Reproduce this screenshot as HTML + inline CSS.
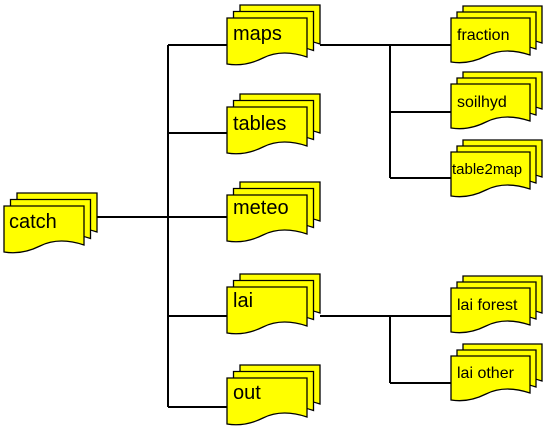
<!DOCTYPE html>
<html><head><meta charset="utf-8"><style>
html,body{margin:0;padding:0;background:#fff;}
svg{display:block;}
text{font-family:"Liberation Sans",Arial,sans-serif;fill:#000;}
</style></head><body>
<svg width="558" height="437" viewBox="0 0 558 437" xmlns="http://www.w3.org/2000/svg">
<defs>
<path id="d" d="M0,0 H80 V39 C62,33 48,34 36,40 C24,46 12,48 0,46 Z" fill="#ffff00" stroke="#000" stroke-width="1.3"/>
<path id="s" d="M0,0 H79 V37 C61,31 47,32 35,38 C23,44 12,46 0,44 Z" fill="#ffff00" stroke="#000" stroke-width="1.3"/>
<g id="big"><use href="#d" x="13" y="-13"/><use href="#d" x="6.5" y="-6.5"/><use href="#d" x="0" y="0"/></g>
<g id="sm"><use href="#s" x="12" y="-12"/><use href="#s" x="6" y="-6"/><use href="#s" x="0" y="0"/></g>
</defs>
<g stroke="#000" stroke-width="2" fill="none">
<path d="M96,217 H168 M168,45 V407 M168,45 H227 M168,133 H227 M168,217 H227 M168,316 H227 M168,407 H227"/>
<path d="M320,45 H390 M390,45 V178 M390,45 H451 M390,112 H451 M390,178 H451"/>
<path d="M320,316 H390 M390,316 V383 M390,316 H451 M390,383 H451"/>
</g>
<use href="#big" x="4" y="206"/>
<use href="#big" x="227" y="18"/>
<use href="#big" x="227" y="107"/>
<use href="#big" x="227" y="195"/>
<use href="#big" x="227" y="287"/>
<use href="#big" x="227" y="378"/>
<use href="#sm" x="451" y="18"/>
<use href="#sm" x="451" y="84"/>
<use href="#sm" x="451" y="152"/>
<use href="#sm" x="451" y="288"/>
<use href="#sm" x="451" y="356"/>
<g font-size="20">
<text x="9" y="228">catch</text>
<text x="233" y="40">maps</text>
<text x="233" y="130">tables</text>
<text x="233" y="214">meteo</text>
<text x="233" y="307">lai</text>
<text x="233" y="399">out</text>
</g>
<g font-size="16">
<text x="457" y="40">fraction</text>
<text x="457" y="107">soilhyd</text>
<text x="452" y="174" font-size="15">table2map</text>
<text x="457" y="310">lai forest</text>
<text x="457" y="378">lai other</text>
</g>
</svg>
</body></html>
